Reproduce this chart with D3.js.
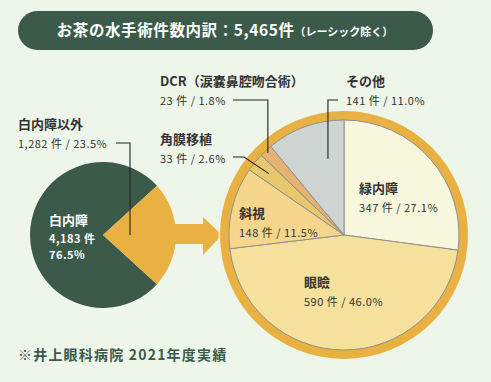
<!DOCTYPE html>
<html>
<head>
<meta charset="utf-8">
<script src="https://cdn.jsdelivr.net/npm/d3@7"></script>
<style>
body { margin: 0; background: #eef6ea; }
svg { display: block; font-family: "Noto Sans CJK JP", "Noto Sans", sans-serif; }
</style>
</head>
<body>
<script>
// data
var leftNames = ["白内障", "白内障以外"];
var leftCounts = [4183, 1282];
var leftPct = [76.5, 23.5];

var rightNames = ["緑内障", "眼瞼", "斜視", "角膜移植", "DCR（涙嚢鼻腔吻合術）", "その他"];
var rightCounts = [347, 590, 148, 33, 23, 141];
var rightPct = [27.1, 46.0, 11.5, 2.6, 1.8, 11.0];
var rightColors = ["#f7f7dd", "#f5e19c", "#f6d68d", "#e8c86c", "#e6b272", "#cdd4d1"];

var svg = d3.select("body").append("svg")
  .attr("width", 491)
  .attr("height", 382);

var dark = "#3b5a4a", gold = "#e8b142", bg = "#eef6ea", ink = "#333";

// title pill
svg.append("rect")
  .attr("x", 18).attr("y", 11).attr("width", 415).attr("height", 39)
  .attr("rx", 19.5).attr("fill", dark);
var title = svg.append("text")
  .attr("x", 225).attr("y", 36)
  .attr("text-anchor", "middle")
  .attr("fill", "#fff")
  .attr("font-weight", "bold");
title.append("tspan").attr("font-size", "15.5px").attr("letter-spacing", "0.6px").text("お茶の水手術件数内訳：5,465件");
title.append("tspan").attr("font-size", "11px").text("（レーシック除く）");

// left pie
var lc = [103, 235], lr = 73;
var leftPie = d3.pie().sort(null)
  .startAngle(Math.PI / 2 + leftPct[1] / 100 * Math.PI)
  .endAngle(Math.PI / 2 + leftPct[1] / 100 * Math.PI + 2 * Math.PI);
var leftArc = d3.arc().innerRadius(0).outerRadius(lr);
var lg = svg.append("g").attr("transform", "translate(" + lc + ")");
lg.selectAll("path")
  .data(leftPie(leftPct))
  .enter().append("path")
  .attr("d", leftArc)
  .attr("fill", function(d, i) { return i == 0 ? dark : gold; });

// right pie
var rc = [344, 235], rr = 115, ringR = 124;

// arrow
var ax = d3.scaleLinear().domain([0, 1]).range([lc[0] + 60, rc[0] - ringR + 2]);
var arrowPts = [
  [ax(0), rc[1] - 11], [ax(0.68), rc[1] - 11], [ax(0.68), rc[1] - 18],
  [ax(1), rc[1]], [ax(0.68), rc[1] + 20], [ax(0.68), rc[1] + 9], [ax(0), rc[1] + 9]
];
svg.append("path")
  .attr("d", d3.line()(arrowPts) + "Z")
  .attr("fill", gold);

var rg = svg.append("g").attr("transform", "translate(" + rc + ")");
rg.append("circle").attr("r", ringR + 1.5).attr("fill", bg);
rg.append("circle").attr("r", ringR).attr("fill", gold);

var rightPie = d3.pie().sort(null);
var rightArc = d3.arc().innerRadius(0).outerRadius(rr);
var slices = rightPie(rightPct);
rg.selectAll("path.slice")
  .data(slices)
  .enter().append("path")
  .attr("class", "slice")
  .attr("d", rightArc)
  .attr("fill", function(d, i) { return rightColors[i]; })
  .attr("stroke", "#8f8f8f")
  .attr("stroke-width", 1);

function polar(c, a, r) { return [c[0] + r * Math.sin(a), c[1] - r * Math.cos(a)]; }
function fmt(n) { return d3.format(",")(n); }

// labels
function label(x, y, name, sub, color) {
  var t = svg.append("g").attr("fill", color || ink);
  t.append("text").attr("x", x).attr("y", y)
    .attr("font-size", "13px").attr("font-weight", "bold").text(name);
  t.append("text").attr("x", x).attr("y", y + 19)
    .attr("font-size", "11px").attr("letter-spacing", "0.5px").text(sub);
}
function sub(i) { return rightCounts[i] + " 件 / " + rightPct[i].toFixed(1) + "%"; }

label(18, 129, leftNames[1], fmt(leftCounts[1]) + " 件 / " + leftPct[1].toFixed(1) + "%");
var wl = svg.append("g").attr("fill", "#fff").attr("font-weight", "bold");
wl.append("text").attr("x", 49).attr("y", 225).attr("font-size", "13px").text(leftNames[0]);
wl.append("text").attr("x", 49).attr("y", 243).attr("font-size", "11px").attr("letter-spacing", "0.5px").text(fmt(leftCounts[0]) + " 件");
wl.append("text").attr("x", 49).attr("y", 259).attr("font-size", "11px").attr("letter-spacing", "0.5px").text(leftPct[0].toFixed(1) + "%");

label(359, 193, rightNames[0], sub(0));
label(304, 287, rightNames[1], sub(1));
label(239, 218, rightNames[2], sub(2));
label(160, 144, rightNames[3], sub(3));
label(160, 86, rightNames[4], sub(4));
label(346, 86, rightNames[5], sub(5));

// leader lines
var lines = svg.append("g").attr("fill", "none").attr("stroke", "#222").attr("stroke-width", 1.1);
var pOut = polar(lc, Math.PI / 2, 27);
lines.append("path").attr("d", d3.line()([[116, 143], [pOut[0], 143], pOut]));

function mid(d, f) { return d.startAngle + (d.endAngle - d.startAngle) * f; }
var pDcr = polar(rc, mid(slices[4], 0.5), 112);
lines.append("path").attr("d", d3.line()([[233, 100], [pDcr[0], 100], pDcr]));
var pKak = polar(rc, mid(slices[3], 0.5), 97);
lines.append("path").attr("d", d3.line()([[233, 157], [244, 157], pKak]));
var pOth = polar(rc, mid(slices[5], 0.7), 78);
lines.append("path").attr("d", d3.line()([[338, 100], [pOth[0], 100], pOth]));

// footer
svg.append("text")
  .attr("x", 18).attr("y", 360)
  .attr("font-size", "14px").attr("font-weight", "bold")
  .attr("letter-spacing", "1.2px")
  .attr("fill", dark)
  .text("※井上眼科病院 2021年度実績");
</script>
</body>
</html>
